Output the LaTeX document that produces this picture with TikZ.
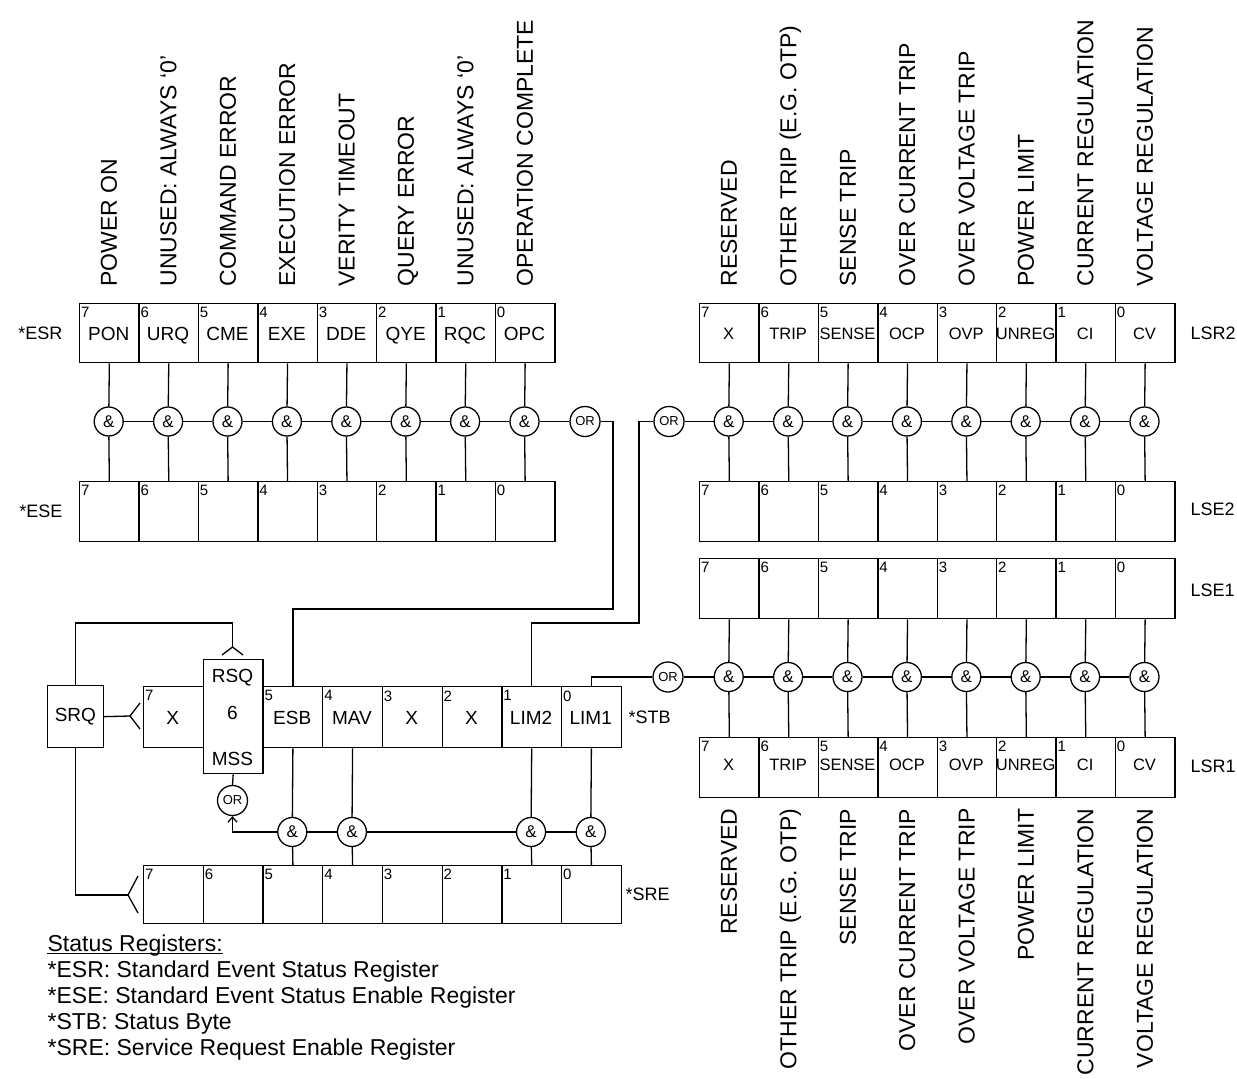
\documentclass[tikz,border=0pt]{standalone}
\usepackage{fontspec}
\setmainfont{Liberation Sans}
\usetikzlibrary{arrows.meta}
\newcommand\fsz[1]{\fontsize{#1}{#1}\selectfont}
\begin{document}
\begin{tikzpicture}[x=1pt,y=-1pt,line width=1.3pt,
  every node/.style={inner sep=0pt},
  cell/.style={draw, anchor=north west, minimum width=59.4pt},
  cellS/.style={draw, anchor=north west, minimum width=59.7pt},
  lblA/.style={font=\fsz{19}, text height=13.6pt, text depth=0pt},
  lblB/.style={font=\fsz{16.5}, text height=11.8pt, text depth=0pt},
  dig/.style={anchor=north west, font=\fsz{15}},
  andg/.style={draw, circle, minimum size=29pt, fill=white, font=\fsz{17}},
  org/.style={draw, circle, minimum size=30pt, fill=white, font=\fsz{13}},
  rot/.style={rotate=90, font=\fsz{23}, text height=16.5pt, text depth=0pt},
  side/.style={font=\fsz{18}},
  leg/.style={anchor=base west, font=\fsz{23}},
  tip/.style={-{Straight Barb[length=5pt,width=9pt]}}
]
\path[use as bounding box, fill=white] (0,0) rectangle (1237,1079);

% ---------- top labels ----------
\foreach \lab [count=\i from 0] in {POWER ON,{UNUSED: ALWAYS ‘0’},COMMAND ERROR,EXECUTION ERROR,VERITY TIMEOUT,QUERY ERROR,{UNUSED: ALWAYS ‘0’},OPERATION COMPLETE}
  \node[rot, anchor=west] (tl\i) at ({79+59.4*\i+29.7},287) {\lab};
\foreach \lab [count=\i from 0] in {RESERVED,OTHER TRIP (E.G. OTP),SENSE TRIP,OVER CURRENT TRIP,OVER VOLTAGE TRIP,POWER LIMIT,CURRENT REGULATION,VOLTAGE REGULATION}{
  \node[rot, anchor=west] (tr\i) at ({699+59.4*\i+29.7},287) {\lab};
  \node[rot, anchor=east] (br\i) at ({699+59.4*\i+29.7},808) {\lab};
}

% ---------- ESR / ESE ----------
\foreach \lab [count=\i from 0] in {PON,URQ,CME,EXE,DDE,QYE,RQC,OPC}{
  \pgfmathtruncatemacro\b{7-\i}
  \node[cell, minimum height=59pt] (esr\b) at ({79+59.4*\i},303) {};
  \node[dig] (esrd\b) at ([xshift=1.5pt,yshift=-3.5pt]esr\b.north west) {\b};
  \node[lblA] (esrl\b) at ({79+59.4*\i+29.7},334) {\lab};
  \node[cell, minimum height=60pt] (ese\b) at ({79+59.4*\i},481) {};
  \node[dig] (esed\b) at ([xshift=1.5pt,yshift=-3.5pt]ese\b.north west) {\b};
  \node[andg] (ea\b) at ({79+59.4*\i+29.7},421.5) {\&};
  \draw (esr\b.south) -- (ea\b) -- (ese\b.north);
}
\node[side, anchor=east] (lesr) at (63,333) {*ESR};
\node[side, anchor=east] (lese) at (63,511.5) {*ESE};
\node[org] (orE) at (585,421.5) {OR};
\foreach \a/\c in {7/6,6/5,5/4,4/3,3/2,2/1,1/0} \draw (ea\a) -- (ea\c);
\draw (ea0) -- (orE);

% ---------- LSR2 / LSE2 / LSE1 / LSR1 ----------
\foreach \lab [count=\i from 0] in {X,TRIP,SENSE,OCP,OVP,UNREG,CI,CV}{
  \pgfmathtruncatemacro\b{7-\i}
  \node[cell, minimum height=59pt] (lsrb\b) at ({699+59.4*\i},303) {};
  \node[dig] (lsrbd\b) at ([xshift=1.5pt,yshift=-3.5pt]lsrb\b.north west) {\b};
  \node[lblB] (lsrbl\b) at ({699+59.4*\i+29.7},334) {\lab};
  \node[cell, minimum height=60pt] (lseb\b) at ({699+59.4*\i},481) {};
  \node[dig] (lsebd\b) at ([xshift=1.5pt,yshift=-3.5pt]lseb\b.north west) {\b};
  \node[andg] (ra\b) at ({699+59.4*\i+29.7},421.5) {\&};
  \draw (lsrb\b.south) -- (ra\b) -- (lseb\b.north);
  \node[cell, minimum height=60pt] (lsea\b) at ({699+59.4*\i},558) {};
  \node[dig] (lsead\b) at ([xshift=1.5pt,yshift=-3.5pt]lsea\b.north west) {\b};
  \node[cell, minimum height=60pt] (lsra\b) at ({699+59.4*\i},737) {};
  \node[dig] (lsrad\b) at ([xshift=1.5pt,yshift=-3.5pt]lsra\b.north west) {\b};
  \node[lblB] (lsral\b) at ({699+59.4*\i+29.7},765) {\lab};
  \node[andg] (la\b) at ({699+59.4*\i+29.7},677) {\&};
  \draw (lsea\b.south) -- (la\b) -- (lsra\b.north);
}
\node[side, anchor=west] (llsr2) at (1190,333) {LSR2};
\node[side, anchor=west] (llse2) at (1190,509) {LSE2};
\node[side, anchor=west] (llse1) at (1190,590) {LSE1};
\node[side, anchor=west] (llsr1) at (1190,766) {LSR1};
\node[org] (orR2) at (669,421.5) {OR};
\node[org] (orR1) at (668,677) {OR};
\draw (orR2) -- (ra7);
\draw (orR1) -- (la7);
\foreach \a/\c in {7/6,6/5,5/4,4/3,3/2,2/1,1/0}{
  \draw (ra\a) -- (ra\c);
  \draw (la\a) -- (la\c);
}

% ---------- STB ----------
\node[cellS, minimum height=61pt] (stb7) at (143,686) {};
\node[dig] (stbd7) at ([xshift=1.5pt,yshift=-4pt]stb7.north west) {7};
\node[lblA] (stbl7) at (172.8,718) {X};
\foreach \b/\lab in {5/ESB,4/MAV,3/X,2/X,1/LIM2,0/LIM1}{
  \node[cellS, minimum height=61pt] (stb\b) at ({262.4+59.7*(5-\b)},686) {};
  \node[dig] (stbd\b) at ([xshift=1.5pt,yshift=-4pt]stb\b.north west) {\b};
  \node[lblA] (stbl\b) at ({262.4+59.7*(5-\b)+29.85},718) {\lab};
}
\node[draw, fill=white, anchor=north west, minimum width=59.7pt, minimum height=114pt] (rsq) at (202.7,659) {};
\node[lblA] (rsqt) at (232.5,676) {RSQ};
\node[lblA] (rsq6) at (232.5,713) {6};
\node[lblA] (msst) at (232.5,759) {MSS};
\node[side, anchor=west] (lstb) at (628,717) {*STB};

% ---------- SRE ----------
\foreach \b in {7,...,0}{
  \node[cellS, minimum height=58pt] (sre\b) at ({143+59.7*(7-\b)},865) {};
  \node[dig] (sred\b) at ([xshift=1.5pt,yshift=-3.5pt]sre\b.north west) {\b};
}
\node[side, anchor=west] (lsre) at (625,894) {*SRE};
\foreach \b in {5,4,1,0}{
  \node[andg] (sa\b) at ({262.4+59.7*(5-\b)+29.85},832) {\&};
  \draw (stb\b.south) -- (sa\b) -- (sre\b.north);
}
\draw (sa5) -- (sa4);
\draw (sa4) -- (sa1);
\draw (sa1) -- (sa0);
\node[org] (orM) at (232.5,800.5) {OR};
\draw (orM.north) -- (rsq.south);
\draw[tip] (sa5.west) -| (orM.south);

% ---------- links to STB ----------
\coordinate (k1) at (613,609);
\draw (orE.east) -| (k1) -| (stb5.north);
\coordinate (k2) at (639,623);
\draw (orR2.west) -| (k2) -| (stb1.north);
\draw (orR1.west) -| (stb0.north);

% ---------- SRQ ----------
\node[draw, anchor=north west, minimum width=55.5pt, minimum height=62pt, font=\fsz{19}] (srq) at (47,685) {SRQ};
\coordinate (f1) at (130,716);
\coordinate (f1a) at (140,703);
\coordinate (f1b) at (140,729);
\draw (srq.east) -- (f1);
\draw (f1a) -- (f1) -- (f1b);
\coordinate (t0) at (232.5,623);
\coordinate (t1) at (232.5,647);
\coordinate (t1a) at (222,655);
\coordinate (t1b) at (243,655);
\draw (srq.north) |- (t0) -- (t1);
\draw (t1a) -- (t1) -- (t1b);
\coordinate (f2) at (128,895);
\coordinate (f2a) at (138,876);
\coordinate (f2b) at (138,913);
\draw (srq.south) |- (f2);
\draw (f2a) -- (f2) -- (f2b);

% ---------- legend ----------
\node[leg] (leg1) at (47,951) {Status Registers:};
\draw[line width=1pt] ([yshift=-2.5pt]leg1.base west) -- ([yshift=-2.5pt]leg1.base east);
\node[leg] (leg2) at (47,977) {*ESR: Standard Event Status Register};
\node[leg] (leg3) at (47,1003) {*ESE: Standard Event Status Enable Register};
\node[leg] (leg4) at (47,1029) {*STB: Status Byte};
\node[leg] (leg5) at (47,1055) {*SRE: Service Request Enable Register};
\end{tikzpicture}
\end{document}
